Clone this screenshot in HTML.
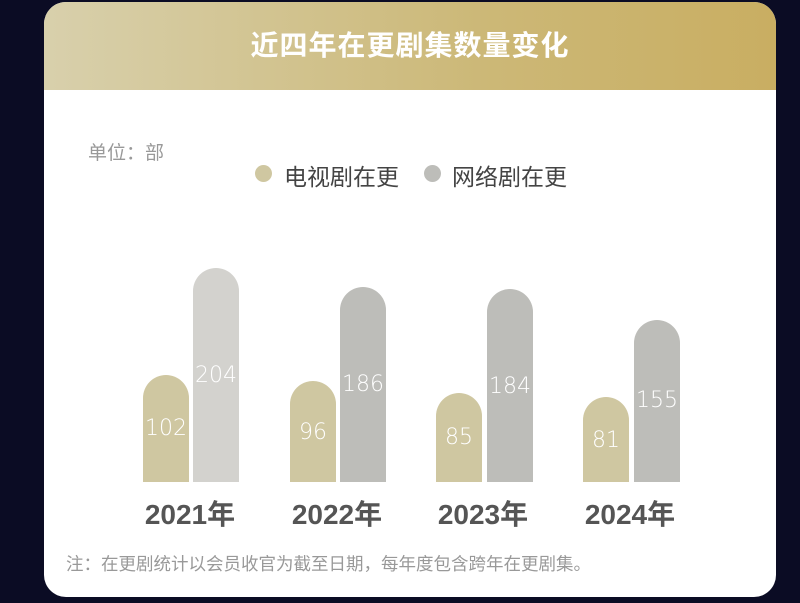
<!DOCTYPE html>
<html><head><meta charset="utf-8"><style>
body{margin:0;width:800px;height:603px;background:#0b0c24;position:relative;overflow:hidden;font-family:"Liberation Sans","Noto Sans CJK SC",sans-serif}
.card{position:absolute;left:44px;top:2px;width:732px;height:595px;background:#fff;border-radius:22px;overflow:hidden}
.hdr{position:absolute;left:0;top:0;width:100%;height:88px;background:linear-gradient(90deg,#d8d0ac,#ccb877 60%,#c9ae62);color:#fff;font-size:28px;font-weight:bold;text-align:center;line-height:88px;letter-spacing:1px}
.t{position:absolute;white-space:nowrap}
.b{position:absolute;bottom:115px;width:46px;border-radius:23px 23px 0 0}
.tv{background:#cfc7a1}.nt{background:#bdbdb9}
.v{position:absolute;color:#fff;font-size:22px;width:46px;text-align:center;font-family:"DejaVu Sans",sans-serif;font-weight:300}
.yr{position:absolute;top:491px;font-size:28px;font-weight:bold;color:#555;width:120px;text-align:center}
.dot{position:absolute;width:17px;height:17px;border-radius:50%}
</style></head><body>
<div class="card">
<div class="hdr">近四年在更剧集数量变化</div>
<div class="t" style="left:44px;top:136px;font-size:19px;color:#999">单位：部</div>
<div class="dot" style="left:211px;top:163px;background:#cfc7a1"></div>
<div class="t" style="left:240px;top:156px;font-size:23px;color:#444">电视剧在更</div>
<div class="dot" style="left:380px;top:163px;background:#bdbdb9"></div>
<div class="t" style="left:408px;top:156px;font-size:23px;color:#444">网络剧在更</div>

<div class="b tv" style="left:99px;height:107px"></div>
<div class="b nt" style="left:149px;height:214px;background:#d3d2ce"></div>
<div class="b tv" style="left:246px;height:101px"></div>
<div class="b nt" style="left:296px;height:195px"></div>
<div class="b tv" style="left:392px;height:89px"></div>
<div class="b nt" style="left:443px;height:193px"></div>
<div class="b tv" style="left:539px;height:85px"></div>
<div class="b nt" style="left:590px;height:162px"></div>

<div class="v" style="left:99px;top:414px">102</div>
<div class="v" style="left:149px;top:361px">204</div>
<div class="v" style="left:246px;top:418px">96</div>
<div class="v" style="left:296px;top:370px">186</div>
<div class="v" style="left:392px;top:423px">85</div>
<div class="v" style="left:443px;top:372px">184</div>
<div class="v" style="left:539px;top:426px">81</div>
<div class="v" style="left:590px;top:386px">155</div>

<div class="yr" style="left:86px">2021年</div>
<div class="yr" style="left:233px">2022年</div>
<div class="yr" style="left:379px">2023年</div>
<div class="yr" style="left:526px">2024年</div>
<div class="t" style="left:22px;top:549px;font-size:17.5px;color:#999">注：在更剧统计以会员收官为截至日期，每年度包含跨年在更剧集。</div>
</div>
</body></html>
